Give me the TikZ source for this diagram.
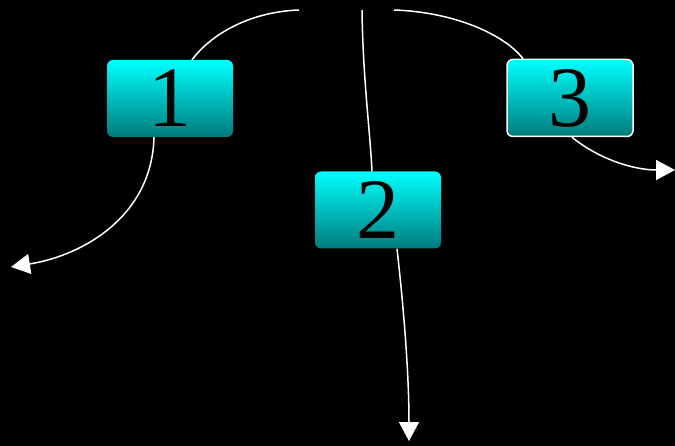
\documentclass[tikz,border=0pt]{standalone}
\usepackage{fontspec}
\setmainfont{Liberation Serif}
\usetikzlibrary{arrows.meta}
\definecolor{boxtop}{RGB}{0,255,255}
\definecolor{boxbot}{RGB}{0,122,122}
\begin{document}
\begin{tikzpicture}[x=1pt,y=-1pt,
  box/.style={rounded corners=6pt, minimum width=126pt, minimum height=77pt, inner sep=0pt,
    top color=boxtop, bottom color=boxbot, font=\fontsize{86}{86}\selectfont, text=black},
  link/.style={draw=white, line width=1.5pt},
  arr/.style={link, -{Triangle[length=19pt,width=20pt]}}]
\fill[black] (0,0) rectangle (675,446);
\useasboundingbox (0,0) rectangle (675,446);
\node[box] (n1) at (170,98.5) {1};
\node[box] (n2) at (378,210) {2};
\node[box, draw=white, line width=1.5pt] (n3) at (570,98) {3};
\coordinate (r1) at (299,10);
\coordinate (r2) at (362,10);
\coordinate (r3) at (394,10);
\coordinate (t1) at (11,267);
\coordinate (t2) at (409,441);
\coordinate (t3) at (675,170);
\draw[link] (r1) .. controls (245,12) and (208,38) .. ([xshift=22pt]n1.north);
\draw[link] (r2) .. controls (363,80) and (370,130) .. ([xshift=-6pt]n2.north);
\draw[link] (r3) .. controls (455,12) and (505,35) .. ([xshift=-47pt]n3.north);
\draw[arr] ([xshift=-16pt]n1.south) .. controls (152,215) and (85,255) .. (t1);
\draw[arr] ([xshift=19pt]n2.south) .. controls (405,320) and (409,380) .. (t2);
\draw[arr] ([xshift=2pt]n3.south) .. controls (600,160) and (635,170) .. (t3);
\end{tikzpicture}
\end{document}
